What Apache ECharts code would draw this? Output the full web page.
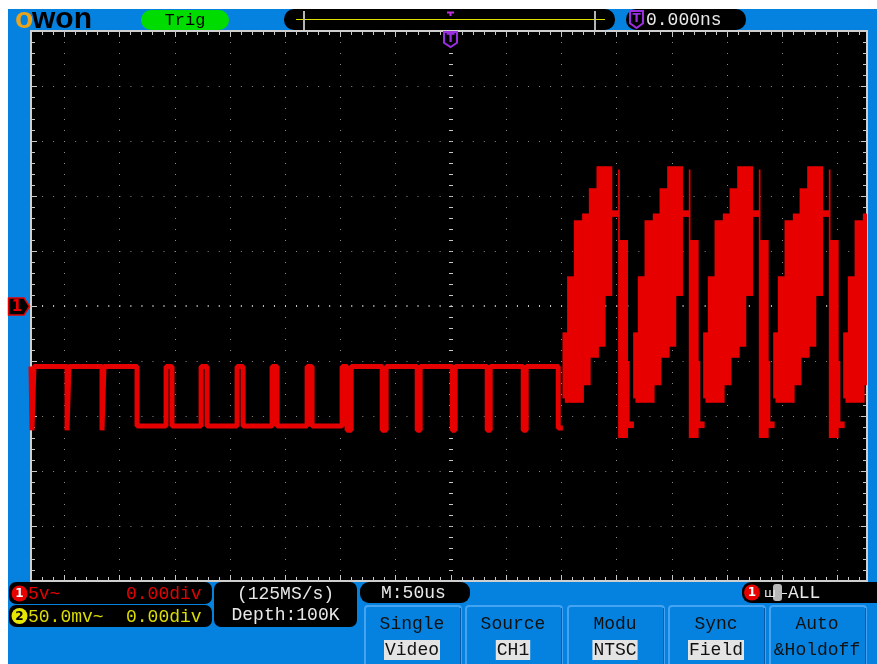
<!DOCTYPE html>
<html>
<head>
<meta charset="utf-8">
<title>OWON - Trig Video</title>
<script src="https://cdn.jsdelivr.net/npm/echarts@6.0.0/dist/echarts.min.js"></script>
<style>
    html, body { margin: 0; padding: 0; background: #fff; }
    #main { width: 877px; height: 664px; }
</style>
</head>
<body>
<div id="main"></div>
<script>
/*
 * CH1 5V/div , M:50us , trigger = video field (NTSC)
 */

// axis ranges (us / V)
var timeMin = -380, timeMax = 377;
var voltMin = -25, voltMax = 25;

// dotted grid, one per division
var gridTimes = [-350, -300, -250, -200, -150, -100, -50, 0, 50, 100, 150, 200, 250, 300, 350];
var gridVolts = [-20, -15, -10, -5, 0, 5, 10, 15, 20];

// pulse train before the picture lines (us, V)
var pulseTime = [
    -380, -379.1, -379.1, -377.3,
    -377.3, -347.4, -347.4, -345.6,
    -345.6, -315.7, -315.7, -313.9,
    -313.9, -284, -284, -257.7,
    -257.7, -252.3, -252.3, -226,
    -226, -220.6, -220.6, -193.4,
    -193.4, -188, -188, -161.7,
    -161.7, -157.2, -157.2, -130,
    -130, -125.5, -125.5, -98.3,
    -98.3, -93.8, -93.8, -90.1,
    -90.1, -62, -62, -58.4,
    -58.4, -30.3, -30.3, -27.6,
    -27.6, 1.4, 1.4, 4.1,
    4.1, 33.1, 33.1, 35.8,
    35.8, 65.7, 65.7, 68.4,
    68.4, 97.4, 97.4, 101.6
];
var pulseVolt = [
    -5.5, -5.5, -11.3, -11.3,
    -5.5, -5.5, -11.3, -11.3,
    -5.5, -5.5, -11.3, -11.3,
    -5.5, -5.5, -10.9, -10.9,
    -5.5, -5.5, -10.9, -10.9,
    -5.5, -5.5, -10.9, -10.9,
    -5.5, -5.5, -10.9, -10.9,
    -5.5, -5.5, -10.9, -10.9,
    -5.5, -5.5, -10.9, -10.9,
    -5.5, -5.5, -11.3, -11.3,
    -5.5, -5.5, -11.3, -11.3,
    -5.5, -5.5, -11.3, -11.3,
    -5.5, -5.5, -11.3, -11.3,
    -5.5, -5.5, -11.3, -11.3,
    -5.5, -5.5, -11.3, -11.3,
    -5.5, -5.5, -11.1, -11.1
];

// picture lines: start time of each line, and the envelope of one line
var lineStart = [101.6, 165.6, 229.0, 292.4, 355.8];
var stepT0 = [0, 2.1, 4.2, 10.3, 17.8, 18.7, 23.9, 24.8, 30.8, 32.3, 38.3, 44.4, 50.4, 51.2, 58.6, 60.1];
var stepT1 = [2.1, 4.2, 10.3, 17.8, 18.7, 23.9, 24.8, 30.8, 32.3, 38.3, 44.4, 50.4, 51.2, 58.6, 60.1, 64.0];
var stepLo = [-8.4, -8.8, -8.8, -8.8, -8.8, -7.2, -7.2, -4.7, -4.7, -3.7, 0.9, 8.1, -12.0, -12.0, -11.1, -11.1];
var stepHi = [-2.4, -2.4, 2.7, 7.8, 8.4, 8.4, 10.7, 10.7, 12.7, 12.7, 12.7, 8.7, 12.4, 6.0, -5.0, -10.5];

// soft menu
var menuTitle = ['Single', 'Source', 'Modu', 'Sync', 'Auto'];
var menuValue = ['Video', 'CH1', 'NTSC', 'Field', '&Holdoff'];


var RED = '#e60000';
var BLUE = '#0582e0';
var YEL = '#dcdc00';
var PURPLE = '#9a2ee0';
var WHITE = '#e8e8e8';
var MONO = '18px "Liberation Mono", "DejaVu Sans Mono", monospace';

var pulseData = pulseTime.map(function (t, i) {
    return [t, pulseVolt[i]];
});

var lineData = [];
lineStart.forEach(function (s) {
    for (var i = 0; i < stepT0.length; i++) {
        lineData.push([s + stepT0[i], s + stepT1[i], stepLo[i], stepHi[i]]);
    }
});

var xTicks = [];
for (var t = timeMin + 10; t < timeMax; t += 10) xTicks.push([t, 0]);
var yTicks = [];
for (var v = voltMin + 1; v < voltMax; v += 1) yTicks.push([0, v]);


function areaOf(params) {
    return {
        x: params.coordSys.x, y: params.coordSys.y,
        width: params.coordSys.width, height: params.coordSys.height
    };
}

function renderVGrid(params, api) {
    var t = api.value(0);
    var a = api.coord([t, voltMax]);
    var b = api.coord([t, voltMin]);
    var center = t === 0;
    var x = center ? Math.round(a[0]) : Math.round(a[0]) + 0.5;
    return {
        type: 'line',
        shape: {x1: x, y1: a[1], x2: x, y2: b[1]},
        style: {stroke: center ? '#c8c8c8' : '#8c8c8c', lineWidth: center ? 4 : 1, lineDash: [1, 10]}
    };
}

function renderHGrid(params, api) {
    var v = api.value(1);
    var a = api.coord([timeMin, v]);
    var b = api.coord([timeMax, v]);
    var step = api.size([10, 0])[0];
    var center = v === 0;
    var y = center ? Math.round(a[1]) : Math.round(a[1]) + 0.5;
    return {
        type: 'line',
        shape: {x1: a[0], y1: y, x2: b[0], y2: y},
        style: {stroke: center ? '#c8c8c8' : '#8c8c8c', lineWidth: center ? 2 : 1, lineDash: [1, step - 1]}
    };
}

function renderXTick(params, api) {
    var t = api.value(0);
    var len = (t % 50 === 0) ? 5 : 3;
    var a = api.coord([t, voltMax]);
    var b = api.coord([t, voltMin]);
    var x = Math.round(a[0]) + 0.5;
    return {
        type: 'group',
        children: [
            {type: 'line', shape: {x1: x, y1: a[1], x2: x, y2: a[1] + 1 + len}, style: {stroke: '#c8c8c8', lineWidth: 1}},
            {type: 'line', shape: {x1: x, y1: b[1], x2: x, y2: b[1] - 1 - len}, style: {stroke: '#c8c8c8', lineWidth: 1}}
        ]
    };
}

function renderYTick(params, api) {
    var v = api.value(1);
    var len = (v % 5 === 0) ? 5 : 3;
    var a = api.coord([timeMin, v]);
    var b = api.coord([timeMax, v]);
    var y = Math.round(a[1]) + 0.5;
    return {
        type: 'group',
        children: [
            {type: 'line', shape: {x1: a[0], y1: y, x2: a[0] + 1 + len, y2: y}, style: {stroke: '#c8c8c8', lineWidth: 1}},
            {type: 'line', shape: {x1: b[0], y1: y, x2: b[0] - 1 - len, y2: y}, style: {stroke: '#c8c8c8', lineWidth: 1}}
        ]
    };
}

function renderStep(params, api) {
    var a = api.coord([api.value(0), api.value(3)]);
    var b = api.coord([api.value(1), api.value(2)]);
    var rect = echarts.graphic.clipRectByRect({
        x: a[0] - 0.4, y: a[1], width: b[0] - a[0] + 0.8, height: b[1] - a[1]
    }, areaOf(params));
    return rect && {type: 'rect', shape: rect, style: {fill: RED}};
}


/* ---- screen furniture ---- */
function box(x, y, w, h, r, fill) {
    return {type: 'rect', z: 20, shape: {x: x, y: y, width: w, height: h, r: r}, style: {fill: fill}};
}

function label(x, y, s, color, align, font) {
    return {
        type: 'text', x: x, y: y, z: 30,
        style: {
            text: s, fill: color, font: font || MONO,
            textAlign: align || 'left', textVerticalAlign: 'middle'
        }
    };
}

function badge(cx, cy, color, digit, digitColor) {
    return [
        {type: 'circle', z: 25, shape: {cx: cx, cy: cy, r: 8}, style: {fill: color}},
        label(cx, cy + 0.5, digit, digitColor, 'center', 'bold 12px "DejaVu Sans"')
    ];
}

function shield(x, y, w, h) {
    return [
        {type: 'polygon', z: 28, shape: {points: [[x, y], [x + w, y], [x + w, y + h * 0.72], [x + w / 2, y + h], [x, y + h * 0.72]]},
            style: {fill: '#000', stroke: PURPLE, lineWidth: 2}},
        {type: 'text', x: x + w / 2, y: y + h * 0.45, z: 30,
            style: {text: 'T', fill: PURPLE, font: 'bold 12px "DejaVu Sans"', textAlign: 'center', textVerticalAlign: 'middle'}}
    ];
}

var chrome = [
    box(0, 0, 877, 9, 0, '#fff'),
    box(0, 0, 8, 664, 0, '#fff'),

    // logo
    label(15, 20, 'o', '#eaa31a', 'left', 'bold 30px "Liberation Sans"'),
    label(32, 20, 'won', '#000', 'left', 'bold 30px "Liberation Sans"'),

    box(141, 10, 88, 20, 10, '#00dc00'),
    label(185, 20, 'Trig', '#000', 'center', '17px "Liberation Mono", monospace'),

    // trigger position bar
    box(284, 9, 331, 21, 10, '#000'),
    {type: 'line', z: 25, shape: {x1: 296, y1: 19.5, x2: 605, y2: 19.5}, style: {stroke: '#e0e000', lineWidth: 1}},
    {type: 'line', z: 25, shape: {x1: 304, y1: 11, x2: 304, y2: 30}, style: {stroke: '#b4b4b4', lineWidth: 2}},
    {type: 'line', z: 25, shape: {x1: 595, y1: 11, x2: 595, y2: 30}, style: {stroke: '#b4b4b4', lineWidth: 2}},
    {type: 'line', z: 25, shape: {x1: 447, y1: 12.5, x2: 454, y2: 12.5}, style: {stroke: '#c030e0', lineWidth: 2}},
    {type: 'line', z: 25, shape: {x1: 450.5, y1: 12, x2: 450.5, y2: 16}, style: {stroke: '#c030e0', lineWidth: 2}},

    box(626, 9, 120, 21, 10, '#000'),
    label(646, 20, '0.000ns', WHITE),

    // CH1 ground marker
    {type: 'polygon', z: 28, shape: {points: [[8.5, 298], [24, 298], [29.5, 306.5], [24, 315], [8.5, 315]]},
        style: {fill: '#000', stroke: RED, lineWidth: 1.5}},
    label(17, 307, '1', RED, 'center', 'bold 15px "DejaVu Sans"'),

    // channel info
    box(9, 582, 203, 22, 7, '#000'),
    box(9, 605, 203, 22, 7, '#000'),
    label(28, 594, '5v~', RED),
    label(126, 594, '0.00div', RED),
    label(28, 617, '50.0mv~', YEL),
    label(126, 617, '0.00div', YEL),

    box(214, 582, 143, 45, 7, '#000'),
    label(285.5, 594, '(125MS/s)', WHITE, 'center'),
    label(285.5, 615, 'Depth:100K', WHITE, 'center'),

    box(360, 582, 110, 21, 9, '#000'),
    label(381, 593.5, 'M:50us', WHITE),

    box(742, 582, 145, 21, 9, '#000'),
    label(764, 594, 'ш', WHITE, 'left', '13px "DejaVu Sans"'),
    {type: 'rect', z: 25, shape: {x: 773, y: 584, width: 9, height: 17, r: 3}, style: {fill: '#b8b8b8'}},
    {type: 'line', z: 25, shape: {x1: 782, y1: 593.5, x2: 787, y2: 593.5}, style: {stroke: WHITE, lineWidth: 1}},
    label(788, 593.5, 'ALL', WHITE)
];

chrome = chrome.concat(shield(444, 32, 13, 15), shield(630, 11, 13, 17));
chrome = chrome.concat(badge(19.5, 593.5, RED, '1', '#fff'), badge(19.5, 616, '#e6e600', '2', '#000'), badge(752, 592.5, RED, '1', '#fff'));

// soft menu buttons
var btnLeft = [365, 466, 568, 669, 770];
menuTitle.forEach(function (name, i) {
    var x = btnLeft[i], w = 96, cx = x + w / 2 - 1;
    chrome.push({type: 'rect', z: 20, shape: {x: x, y: 606, width: w, height: 62, r: 3}, style: {fill: BLUE, stroke: '#45a4f2', lineWidth: 2}});
    chrome.push({type: 'line', z: 21, shape: {x1: x + w - 0.5, y1: 608, x2: x + w - 0.5, y2: 664}, style: {stroke: '#0a5aa5', lineWidth: 1}});
    chrome.push(label(cx, 624, name, '#111', 'center'));
    var val = menuValue[i];
    if (val.charAt(0) !== '&') {
        var bw = val.length * 10.8 + 2;
        chrome.push({type: 'rect', z: 22, shape: {x: cx - bw / 2, y: 640, width: bw, height: 20}, style: {fill: '#e4e4e4'}});
    }
    chrome.push(label(cx, 650, val, '#111', 'center'));
});


var chart = echarts.init(document.getElementById('main'));

var option = {
    backgroundColor: BLUE,
    animation: false,
    grid: {
        left: 31, top: 31, width: 836, height: 550,
        show: true, backgroundColor: '#000', borderColor: '#cfcfcf', borderWidth: 2
    },
    xAxis: {type: 'value', min: timeMin, max: timeMax, show: false},
    yAxis: {type: 'value', min: voltMin, max: voltMax, show: false},
    graphic: chrome,
    series: [
        {
            type: 'custom', silent: true, z: 1,
            data: gridTimes.map(function (t) { return [t, 0]; }),
            encode: {x: 0, y: 1},
            renderItem: renderVGrid
        },
        {
            type: 'custom', silent: true, z: 1,
            data: gridVolts.map(function (v) { return [0, v]; }),
            encode: {x: 0, y: 1},
            renderItem: renderHGrid
        },
        {
            type: 'custom', silent: true, z: 1,
            data: xTicks, encode: {x: 0, y: 1},
            renderItem: renderXTick
        },
        {
            type: 'custom', silent: true, z: 1,
            data: yTicks, encode: {x: 0, y: 1},
            renderItem: renderYTick
        },
        {
            name: 'CH1', type: 'line', z: 3, silent: true,
            showSymbol: false, clip: true,
            lineStyle: {color: RED, width: 5},
            data: pulseData
        },
        {
            name: 'CH1 lines', type: 'custom', z: 3, silent: true,
            data: lineData,
            encode: {x: [0, 1], y: [2, 3]},
            renderItem: renderStep
        }
    ]
};

chart.setOption(option);
</script>
</body>
</html>
